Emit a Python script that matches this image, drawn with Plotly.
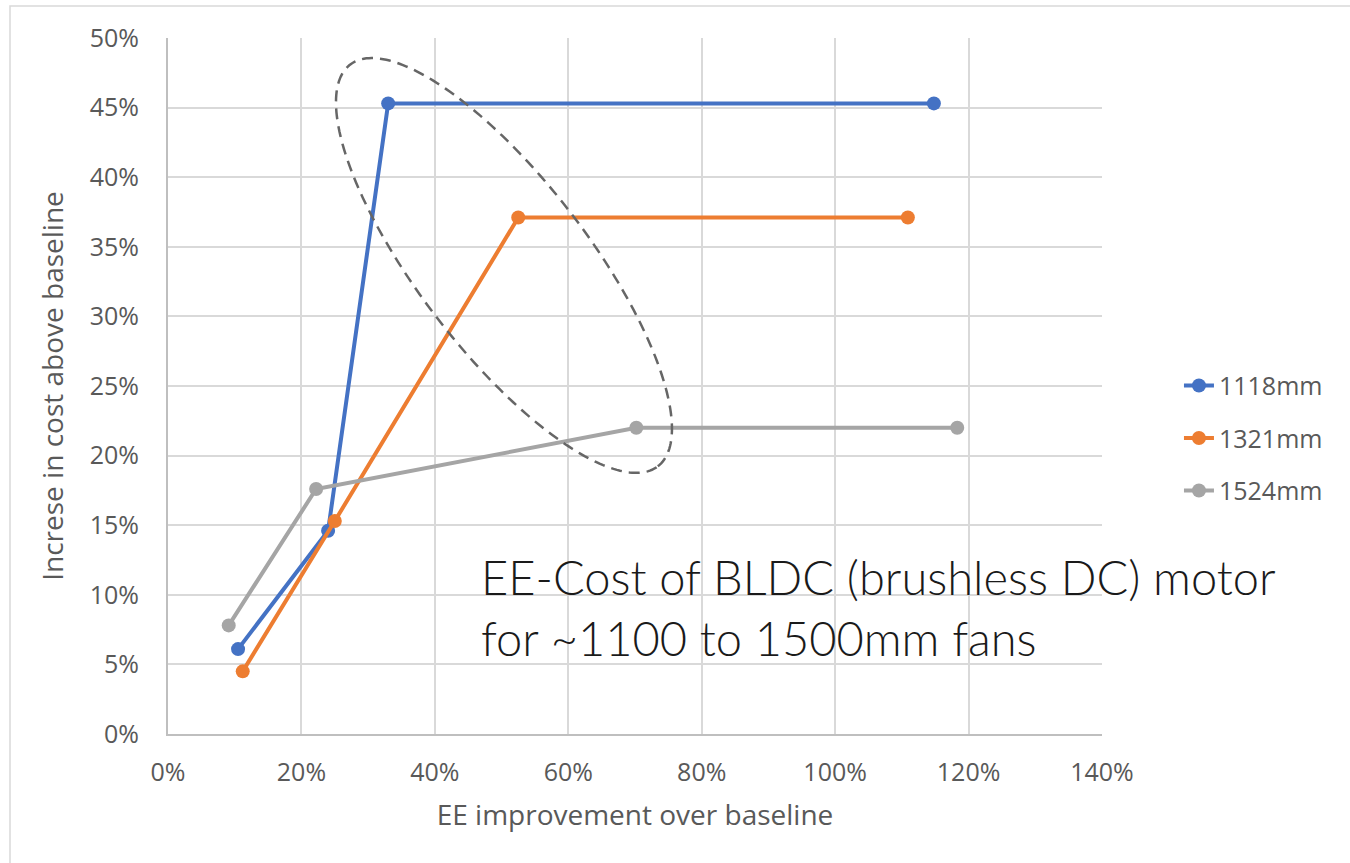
import numpy as np
import plotly.graph_objects as go

series_names = ["1118mm", "1321mm", "1524mm"]
colors = ["#4472C4", "#ED7D31", "#A5A5A5"]
x_1118 = [0.105, 0.240, 0.330, 1.148]
y_1118 = [0.061, 0.146, 0.453, 0.453]
x_1321 = [0.112, 0.250, 0.525, 1.109]
y_1321 = [0.045, 0.153, 0.371, 0.371]
x_1524 = [0.091, 0.222, 0.702, 1.183]
y_1524 = [0.078, 0.176, 0.220, 0.220]
xs = [x_1118, x_1321, x_1524]
ys = [y_1118, y_1321, y_1524]

x_ticks = [0, 0.2, 0.4, 0.6, 0.8, 1.0, 1.2, 1.4]
y_ticks = [0, 0.05, 0.10, 0.15, 0.20, 0.25, 0.30, 0.35, 0.40, 0.45, 0.50]

FONT = "Open Sans"
fig = go.Figure()
for name, c, x, y in zip(series_names, colors, xs, ys):
    fig.add_trace(go.Scatter(x=x, y=y, name=name, mode="lines+markers",
                             line=dict(color=c, width=4), marker=dict(color=c, size=14),
                             legendgroup=name))

# dashed ellipse highlight (annotation), geometry in pixel-equivalent units -> data
W, H = 934.0, 696.0
cx, cy = 0.5036, 0.3366
a_px, b_px = 253.0, 85.0
ang = np.deg2rad(-52.55)
t = np.linspace(0, 2 * np.pi, 240)
ux, uy = np.cos(ang), np.sin(ang)
px = a_px * np.cos(t) * ux - b_px * np.sin(t) * uy
py = a_px * np.cos(t) * uy + b_px * np.sin(t) * ux
ex = cx + px / W * 1.4
ey = cy + py / H * 0.5
path = "M " + " L ".join(f"{a:.5f},{b:.5f}" for a, b in zip(ex, ey)) + " Z"
fig.add_shape(type="path", path=path, xref="x", yref="y",
              line=dict(color="#666666", width=2.5, dash="11px,7px"))

# chart-area border
fig.add_shape(type="rect", xref="paper", yref="paper",
              x0=(10 - 168) / W, x1=(1365 - 168) / W,
              y0=(734 - 870) / H, y1=(734 - 6) / H,
              line=dict(color="#d9d9d9", width=1.5), layer="below")

fig.add_annotation(x=0.4655, y=0.091, xref="x", yref="y", xanchor="left", yanchor="middle",
                   text="EE-Cost of BLDC (brushless DC) motor<br>for ~1100 to 1500mm fans",
                   showarrow=False, align="left",
                   font=dict(family="Lato", size=47, color="#1a1a1a", weight=300))

axis_common = dict(showgrid=True, gridcolor="#d9d9d9", gridwidth=1.5,
                   showline=True, linecolor="#bfbfbf", linewidth=2, zeroline=False,
                   tickfont=dict(family=FONT, size=25, color="#595959"),
                   ticks="", mirror=False)
fig.update_xaxes(range=[0, 1.4], tickvals=x_ticks, tickformat=".0%", ticklabelstandoff=15,
                 title=dict(text="EE improvement over baseline", standoff=18,
                            font=dict(family=FONT, size=28, color="#595959")),
                 **axis_common)
fig.update_yaxes(range=[0, 0.5], tickvals=y_ticks, tickformat=".0%", ticklabelstandoff=22,
                 title=dict(text="Increse in cost above baseline", standoff=18,
                            font=dict(family=FONT, size=28, color="#595959")),
                 **axis_common)

fig.update_layout(width=1350, height=863, paper_bgcolor="white", plot_bgcolor="white",
                  margin=dict(l=168, r=248, t=38, b=129),
                  legend=dict(x=1.0824, y=0.425, xanchor="left", yanchor="middle",
                              font=dict(family=FONT, size=25, color="#595959"),
                              tracegroupgap=17, traceorder="grouped"),
                  showlegend=True)
fig.write_html("out.html")
